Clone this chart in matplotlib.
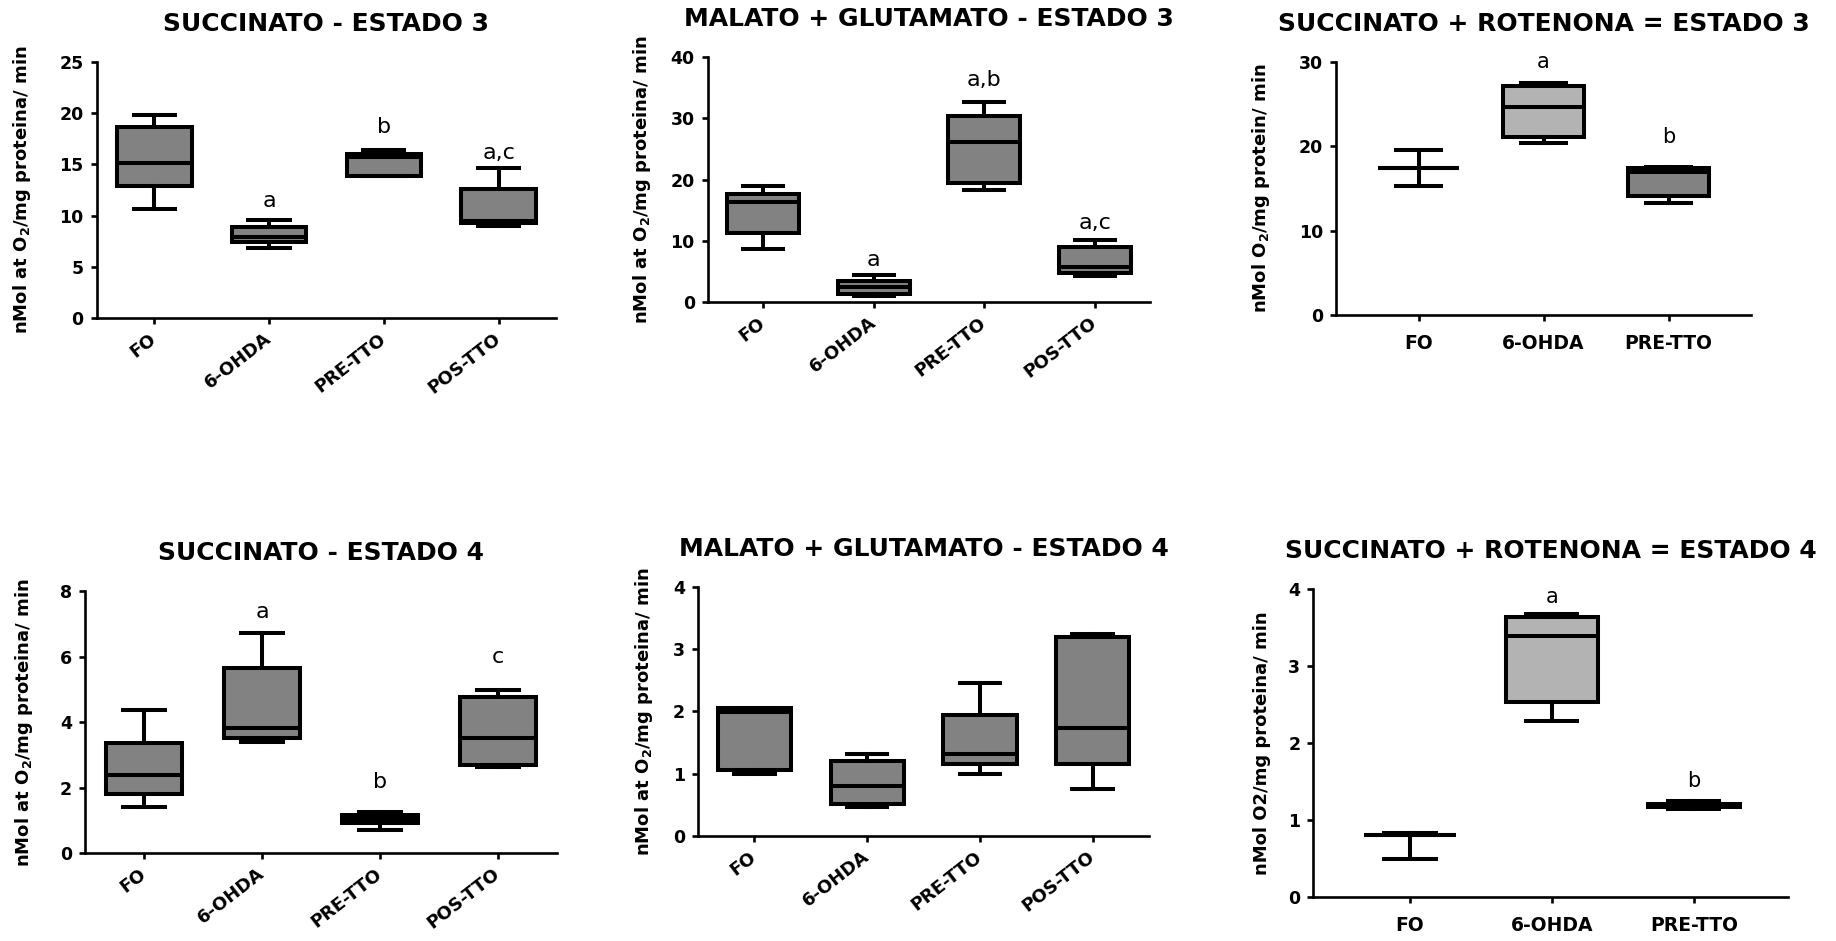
import matplotlib.pyplot as plt

# groups on the x axis
groups4 = ["FO", "6-OHDA", "PRE-TTO", "POS-TTO"]
groups3 = ["FO", "6-OHDA", "PRE-TTO"]

# box summaries per group: [whisker low, Q1, median, Q3, whisker high]
suc3 = [[10.6, 12.9, 15.1, 18.7, 19.8],
        [6.8, 7.4, 7.9, 8.85, 9.6],
        [13.9, 13.9, 15.7, 16.0, 16.4],
        [9.0, 9.3, 9.5, 12.6, 14.65]]
mg3 = [[8.7, 11.3, 16.4, 17.6, 19.0],
       [1.0, 1.36, 2.4, 3.4, 4.4],
       [18.3, 19.4, 26.2, 30.3, 32.6],
       [4.2, 4.8, 5.7, 9.06, 10.1]]
sr3 = [[15.3, 17.4, 17.4, 17.4, 19.5],
       [20.4, 21.1, 24.6, 27.1, 27.55],
       [13.3, 14.1, 16.9, 17.4, 17.6]]
suc4 = [[1.42, 1.8, 2.39, 3.35, 4.37],
        [3.4, 3.5, 3.81, 5.66, 6.73],
        [0.71, 0.91, 1.04, 1.17, 1.24],
        [2.62, 2.69, 3.5, 4.75, 4.98]]
mg4 = [[0.995, 1.06, 1.99, 2.06, 2.06],
       [0.46, 0.52, 0.81, 1.2, 1.31],
       [0.995, 1.15, 1.31, 1.94, 2.45],
       [0.76, 1.15, 1.73, 3.2, 3.24]]
sr4 = [[0.49, 0.80, 0.80, 0.80, 0.83],
       [2.29, 2.53, 3.39, 3.63, 3.67],
       [1.14, 1.17, 1.19, 1.21, 1.24]]

# significance letters and their heights
suc3_letters = ["", "a", "b", "a,c"]
suc3_letter_y = [0, 11.4, 18.7, 16.1]
mg3_letters = ["", "a", "a,b", "a,c"]
mg3_letter_y = [0, 6.8, 36.3, 12.9]
sr3_letters = ["", "a", "b"]
sr3_letter_y = [0, 30.0, 21.1]
suc4_letters = ["", "a", "b", "c"]
suc4_letter_y = [0, 7.37, 2.18, 6.0]
sr4_letters = ["", "a", "b"]
sr4_letter_y = [0, 3.9, 1.5]

ylab_pt = r"nMol at O$_{\mathbf{2}}$/mg proteina/ min"
ylab_en = r"nMol O$_{\mathbf{2}}$/mg protein/ min"
ylab_o2 = "nMol O2/mg proteina/ min"

DARK = "#828282"
LIGHT = "#b3b3b3"
LW = 2.9

fig = plt.figure(figsize=(18.36, 9.41), dpi=100)


def boxpanel(rect, title, stats, names, ymax, ystep, ylabel, labx,
             letters=None, letter_y=None, fills=None, xlim=(-0.5, 3.5),
             rotate=True, letter_size=16):
    ax = fig.add_axes(rect)
    bstats = []
    for s, n in zip(stats, names):
        bstats.append(dict(whislo=s[0], q1=s[1], med=s[2], q3=s[3],
                           whishi=s[4], label=n, fliers=[]))
    pos = list(range(len(names)))
    art = ax.bxp(bstats, positions=pos, widths=0.65, capwidths=0.36,
                 patch_artist=True, showfliers=False, manage_ticks=False,
                 boxprops=dict(linewidth=LW, edgecolor="black"),
                 whiskerprops=dict(linewidth=LW, color="black"),
                 capprops=dict(linewidth=LW, color="black"),
                 medianprops=dict(linewidth=LW, color="black"))
    if fills is None:
        fills = [DARK] * len(names)
    for b, c in zip(art["boxes"], fills):
        b.set_facecolor(c)
        b.set_joinstyle("miter")

    ax.set_xlim(*xlim)
    ax.set_ylim(0, ymax)
    ax.set_yticks([ystep * i for i in range(int(round(ymax / ystep)) + 1)])
    for sp in ["top", "right"]:
        ax.spines[sp].set_visible(False)
    for sp in ["left", "bottom"]:
        ax.spines[sp].set_linewidth(1.9)
    ax.tick_params(axis="both", direction="out", length=4.5, width=1.9)
    ax.tick_params(axis="y", labelsize=12.5, pad=5)
    for t in ax.get_yticklabels():
        t.set_fontweight("bold")

    if rotate:
        ax.set_xticks(pos, names, rotation=38, ha="right",
                      rotation_mode="anchor", va="center",
                      fontsize=13, fontweight="bold")
        ax.tick_params(axis="x", pad=9)
    else:
        ax.set_xticks(pos, names, fontsize=13.5, fontweight="bold")
        ax.tick_params(axis="x", pad=9)

    ax.set_ylabel(ylabel, fontsize=13, fontweight="bold")
    ax.yaxis.set_label_coords(labx, 0.5)
    ax.set_title(title, fontsize=18, fontweight="bold", pad=22)

    if letters:
        for x, (txt, yv) in enumerate(zip(letters, letter_y)):
            if txt:
                ax.text(x, yv, txt, ha="center", va="center",
                        fontsize=letter_size, clip_on=False)
    return ax


boxpanel([0.0528, 0.6621, 0.25, 0.272], "SUCCINATO - ESTADO 3", suc3,
         groups4, 25, 5, ylab_pt, -0.14, suc3_letters, suc3_letter_y)
boxpanel([0.3856, 0.679, 0.2407, 0.2604], "MALATO + GLUTAMATO - ESTADO 3",
         mg3, groups4, 40, 10, ylab_pt, -0.125, mg3_letters, mg3_letter_y)
boxpanel([0.7277, 0.6653, 0.226, 0.2689], "SUCCINATO + ROTENONA = ESTADO 3",
         sr3, groups3, 30, 10, ylab_en, -0.154, sr3_letters, sr3_letter_y,
         fills=[DARK, LIGHT, DARK], xlim=(-0.66, 2.66), rotate=False,
         letter_size=15)
boxpanel([0.0463, 0.0935, 0.2571, 0.2784], "SUCCINATO - ESTADO 4", suc4,
         groups4, 8, 2, ylab_pt, -0.105, suc4_letters, suc4_letter_y)
boxpanel([0.3802, 0.1116, 0.2456, 0.2646], "MALATO + GLUTAMATO - ESTADO 4",
         mg4, groups4, 4, 1, ylab_pt, -0.095)
boxpanel([0.7154, 0.0468, 0.2582, 0.3273], "SUCCINATO + ROTENONA = ESTADO 4",
         sr4, groups3, 4, 1, ylab_o2, -0.09, sr4_letters, sr4_letter_y,
         fills=[DARK, LIGHT, DARK], xlim=(-0.68, 2.66), rotate=False,
         letter_size=15)

fig.savefig("out.png", dpi=100)
